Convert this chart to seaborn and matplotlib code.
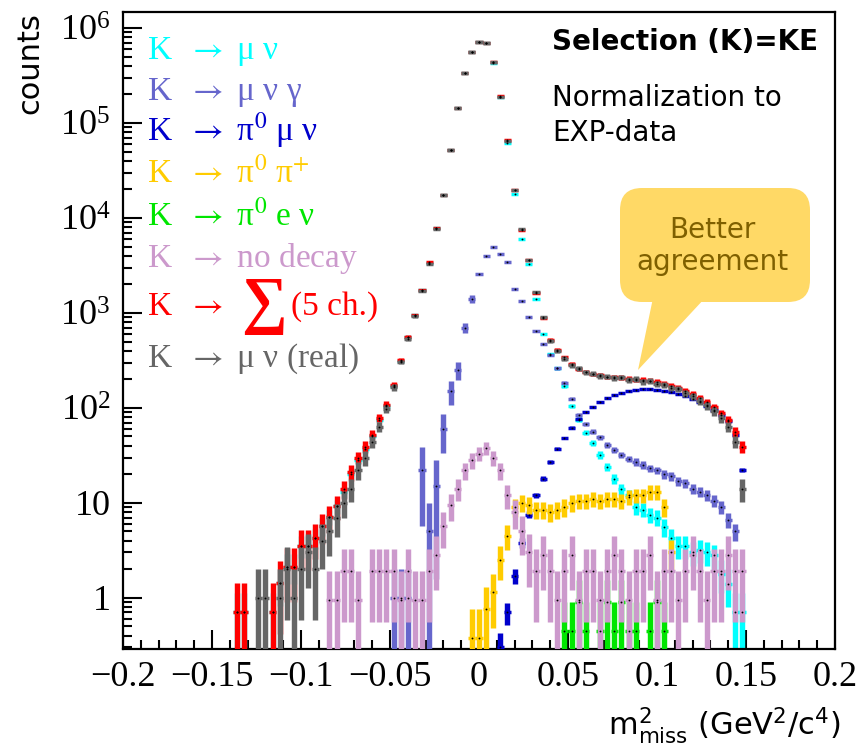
import numpy as np
import pandas as pd
import matplotlib
matplotlib.use("Agg")
import matplotlib.pyplot as plt
import seaborn as sns
from matplotlib.patches import FancyBboxPatch, Polygon
from matplotlib.ticker import FixedLocator, MultipleLocator, LogLocator, NullFormatter

# m^2_miss bins (GeV^2/c^4), 0.004 wide, centres from -0.140 to 0.148
bin_width = 0.004
bin_centers = np.round(-0.140 + bin_width * np.arange(73), 3)

# counts per bin
sum_counts = [0, 0.71, 0.71, 0, 0, 0, 0.71, 1.42, 2.13, 2.13,
              3.55, 3.55, 4.3, 5.7, 7.1, 9.2, 14, 21, 30, 39,
              52, 78, 108, 175, 320, 560, 950, 1750, 3400, 7800,
              17500, 52000, 145000, 340000, 560000, 710000, 700000, 440000, 191000, 66000,
              19700, 7500, 3600, 1620, 890, 520, 410, 340, 290, 257,
              240, 228, 223, 212, 212, 208, 203, 198, 198, 193,
              188, 179, 170, 162, 151, 141, 127, 116, 102, 88,
              75, 56, 39]
real_counts = [0, 0, 0, 0, 1, 1, 0, 1, 2, 1,
               2, 3, 2, 4, 5, 7, 10, 14, 22, 30,
               44, 63, 98, 165, 305, 530, 920, 1700, 3300, 7700,
               17300, 51500, 144000, 338000, 558000, 712000, 702000, 442000, 189000, 65500,
               19500, 7600, 3650, 1650, 900, 510, 400, 330, 282, 262,
               236, 230, 216, 214, 205, 210, 198, 200, 190, 192,
               180, 176, 162, 158, 143, 133, 118, 106, 92, 78,
               63, 44, 14]
munu_counts = [0, 0.71, 0.71, 0, 0, 0, 0.71, 1.42, 2.13, 2.13,
               3.55, 3.55, 4.3, 5.7, 7.1, 9.2, 13, 20, 28, 37,
               50, 75, 105, 172, 315, 555, 945, 1730, 3380, 7770,
               17450, 51800, 144500, 339000, 558000, 707000, 695000, 434000, 186000, 62000,
               17800, 6000, 3300, 1400, 600, 370, 260, 170, 105, 75,
               55, 43, 32, 24, 18, 14, 12, 9, 8.5, 7.5,
               7, 5.5, 4.3, 3.5, 3.5, 3, 3.2, 3, 2.8, 1.8,
               1.4, 0.7, 0.7]
munugamma_counts = [0] * 22 + [
    0, 1, 1, 1, 0, 22, 5, 15, 60, 150, 250,
    700, 1400, 2600, 4000, 4900, 4200, 3400,
    1800, 1350, 900, 640, 470, 360, 260, 185, 125, 85,
    68, 56, 49, 41, 36, 32, 29, 27, 25, 23,
    22, 20, 19, 17, 16, 14, 13, 12, 10.5, 9,
    6.6, 5, 0]
pi0munu_counts = [0] * 38 + [
    0.3, 0.7, 1.7, 3.8, 7.5, 12, 18, 27, 37, 48, 62, 76,
    90, 103, 115, 127, 138, 145, 150, 155, 158, 158,
    156, 152, 147, 140, 133, 125, 115, 104, 94, 84,
    72, 52, 22]
pi0pi_counts = [0] * 34 + [
    0.38, 0.38, 0.76, 1.14, 2.5, 4.5,
    9, 10, 9.5, 8.5, 8.5, 8, 8.5, 9, 10, 10.5,
    10.5, 11, 10.5, 11, 11, 10.5, 11.5, 12, 12, 13,
    13, 9, 3] + [0] * 10
pi0enu_counts = [0] * 47 + [
    0.45, 0.45, 0.9, 0.45, 0, 0.45, 0.9, 0.45, 0.9, 0.45,
    0.45, 0, 0.45, 0.9, 0.45] + [0] * 11
nodecay_counts = [0] * 14 + [
    0.95, 0.95, 1.9, 1.9, 0.95, 0, 1.9, 1.9, 1.9, 1.9, 0.95, 1.9, 0.95, 0.95, 1.9, 2.85,
    5.7, 9.5, 14, 22, 28, 33, 38, 30, 22, 12,
    8, 5, 3, 1.9, 2.85, 1.9, 0.95, 1.9, 2.85, 0.95,
    1.9, 1.9, 0.95, 1.9, 2.85, 1.9, 0.95, 1.9, 1.9, 2.85,
    0.95, 1.9, 1.9, 0.95, 1.9, 2.85, 1.9, 0.95, 1.9, 1.9,
    2.85, 1.9, 1.9]

xtick_values = [-0.2, -0.15, -0.1, -0.05, 0, 0.05, 0.1, 0.15, 0.2]
xtick_labels = ["\u22120.2", "\u22120.15", "\u22120.1", "\u22120.05", "0", "0.05", "0.1", "0.15", "0.2"]
ytick_values = [1, 10, 1e2, 1e3, 1e4, 1e5, 1e6]
ytick_labels = ["1", "10", r"$\mathregular{10^{2}}$", r"$\mathregular{10^{3}}$",
                r"$\mathregular{10^{4}}$", r"$\mathregular{10^{5}}$", r"$\mathregular{10^{6}}$"]

# (name, counts, colour, event weight used for the error bars)
series = [
    ("munu", munu_counts, "#00ffff", 0.25),
    ("munugamma", munugamma_counts, "#6666cc", None),
    ("pi0munu", pi0munu_counts, "#0000cc", 0.05),
    ("pi0pi", pi0pi_counts, "#ffcc00", 0.38),
    ("pi0enu", pi0enu_counts, "#00e600", 0.45),
    ("nodecay", nodecay_counts, "#cc99cc", 0.95),
    ("sum", sum_counts, "#ff0000", 0.71),
    ("real", real_counts, "#666666", 1.0),
]

sns.set_theme(style="ticks")
plt.rcParams["font.family"] = ["Liberation Serif", "DejaVu Serif"]
plt.rcParams["mathtext.fontset"] = "stix"

fig = plt.figure(figsize=(8.6, 7.51), dpi=100)
ax = fig.add_axes([123 / 860, 1 - 649 / 751, 712 / 860, 637 / 751])
ax.set_yscale("log", nonpositive="clip")

rows = []
for i, (name, counts, color, w) in enumerate(series):
    v = np.array(counts, dtype=float)
    m = v > 0
    if w is None:
        # radiative MC: heavy weights left of the peak, fine stats elsewhere
        wt = np.where(bin_centers < 0, np.minimum(v, 12), 0.2)
        err = np.sqrt(v * wt)
    else:
        err = np.sqrt(v * w)
    # ROOT-like thick error crosses: vertical = stat error, horizontal = bin width
    ax.errorbar(bin_centers[m], v[m], yerr=err[m], fmt="none", ecolor=color,
                elinewidth=3.9, capsize=0, zorder=2 + i)
    ax.errorbar(bin_centers[m], v[m], xerr=bin_width / 2, fmt="none", ecolor=color,
                elinewidth=2.5, capsize=0, zorder=2 + i)
    rows.append(pd.DataFrame({"x": bin_centers[m], "counts": v[m], "series": name}))

points = pd.concat(rows, ignore_index=True)
sns.scatterplot(data=points, x="x", y="counts", color="black", s=1.8, linewidth=0,
                legend=False, ax=ax, zorder=20)

ax.set_xlim(-0.2, 0.2)
ax.set_ylim(10 ** -0.54, 10 ** 6.17)
ax.set_xlabel("")
ax.set_ylabel("")
ax.xaxis.set_major_locator(FixedLocator(xtick_values))
ax.set_xticklabels(xtick_labels)
ax.xaxis.set_minor_locator(MultipleLocator(0.01))
ax.yaxis.set_major_locator(FixedLocator(ytick_values))
ax.set_yticklabels(ytick_labels)
ax.yaxis.set_minor_locator(LogLocator(base=10, subs=np.arange(2, 10), numticks=30))
ax.yaxis.set_minor_formatter(NullFormatter())
ax.tick_params(which="both", direction="in", top=False, right=False, width=1.5, colors="black")
ax.tick_params(which="major", length=13.5, labelsize=26, pad=9)
ax.tick_params(which="minor", length=6.5)
for s in ax.spines.values():
    s.set_linewidth(1.6)
    s.set_color("black")
ax.grid(False)

# overlay in pixel coordinates for the annotations
ov = fig.add_axes([0, 0, 1, 1], zorder=5)
ov.set_xlim(0, 860)
ov.set_ylim(751, 0)
ov.axis("off")
ov.patch.set_alpha(0)

arrow = r"$\rightarrow$"
legend_rows = [
    ("K  " + arrow + " \u03bc \u03bd", "#00ffff", 59),
    ("K  " + arrow + " \u03bc \u03bd \u03b3", "#6666cc", 100),
    ("K  " + arrow + " \u03c0$^{0}$ \u03bc \u03bd", "#0000cc", 140),
    ("K  " + arrow + " \u03c0$^{0}$ \u03c0$^{+}$", "#ffcc00", 182),
    ("K  " + arrow + " \u03c0$^{0}$ e \u03bd", "#00e600", 225),
    ("K  " + arrow + " no decay", "#cc99cc", 267),
    ("K  " + arrow, "#ff0000", 315),
    ("K  " + arrow + " \u03bc \u03bd (real)", "#666666", 367),
]
for text, color, yb in legend_rows:
    ov.text(147, yb, text, color=color, fontsize=24, va="baseline", ha="left")
ov.text(241, 306, "\u2211", color="#ff0000", fontsize=46, fontweight="bold", va="center", ha="left")
ov.text(291, 315, "(5 ch.)", color="#ff0000", fontsize=24, va="baseline", ha="left")

ov.text(30, 12, "counts", rotation=90, ha="center", va="top", family="DejaVu Sans",
        fontsize=22, color="black")
ov.text(552, 42, "Selection (K)=KE", family="DejaVu Sans", fontweight="bold",
        fontsize=20, va="center", ha="left", color="black")
ov.text(552, 84, "Normalization to\nEXP-data", family="DejaVu Sans", fontsize=20,
        va="top", ha="left", linespacing=1.3, color="black")

ov.add_patch(FancyBboxPatch((620, 188), 190, 114, boxstyle="round,pad=0,rounding_size=22",
                            facecolor="#ffd966", edgecolor="none", zorder=1))
ov.add_patch(Polygon([(653, 298), (705, 298), (638, 370)], closed=True,
                     facecolor="#ffd966", edgecolor="none", zorder=1))
ov.text(712, 246, "Better\nagreement", family="DejaVu Sans", fontsize=20, color="#7f6000",
        ha="center", va="center", multialignment="center", linespacing=1.2, zorder=2)

ov.text(840, 735, r"m$^{2}_{\mathrm{miss}}$ (GeV$^{2}$/c$^{4}$)", family="DejaVu Sans",
        math_fontfamily="dejavusans", fontsize=22, ha="right", va="baseline", color="black")

fig.savefig("out.png", dpi=100)
